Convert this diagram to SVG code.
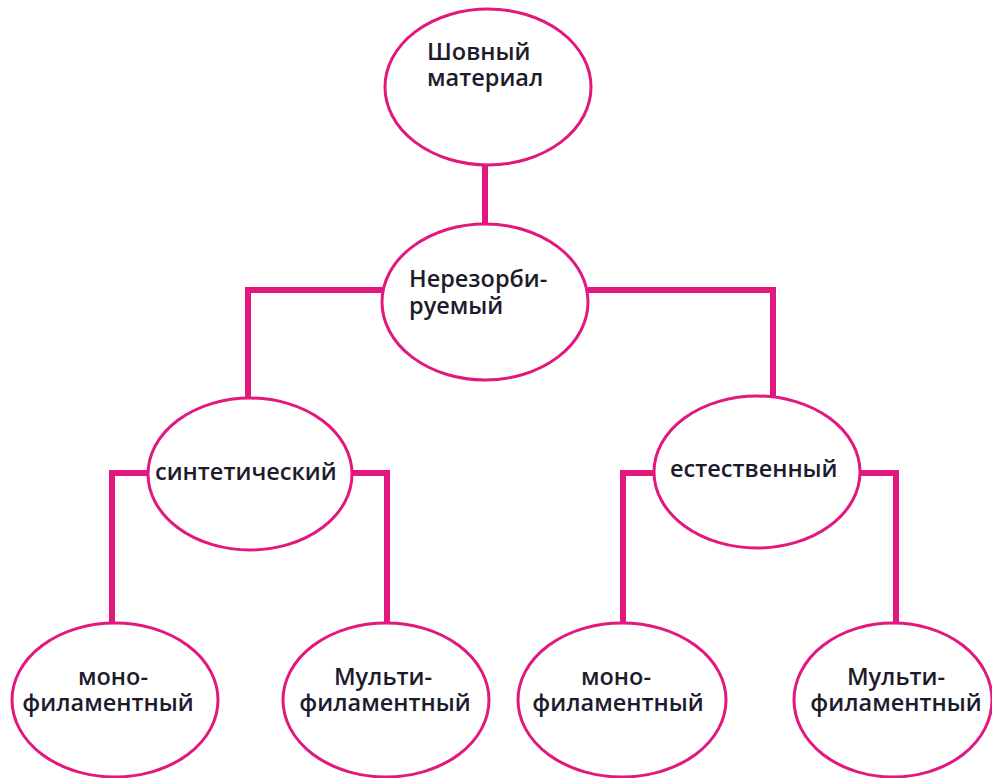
<svg xmlns="http://www.w3.org/2000/svg" width="992" height="778" viewBox="0 0 992 778">
<style>
.n{fill:#fff;stroke:#e2187f;stroke-width:3}
.c{fill:none;stroke:#e2187f;stroke-width:6;stroke-linecap:butt;stroke-linejoin:miter}
.t{font-family:"Open Sans","DejaVu Sans",sans-serif;font-size:23.5px;font-weight:600;fill:#1c1c2c}
.m{text-anchor:middle}
</style>
<rect width="992" height="778" fill="#fff"/>
<g id="connectors">
<path class="c" d="M485 165V228"/>
<path class="c" d="M383 290H248V416"/>
<path class="c" d="M588 290H773V400"/>
<path class="c" d="M149 473H112V624"/>
<path class="c" d="M351 473H387V624"/>
<path class="c" d="M655 473H623V624"/>
<path class="c" d="M859 473H896V624"/>
</g>
<g id="n1"><ellipse class="n" cx="488" cy="87" rx="103" ry="78"/>
<text class="t" x="427" y="60">Шовный</text><text class="t" x="427" y="86">материал</text></g>
<g id="n2"><ellipse class="n" cx="485" cy="302" rx="103" ry="78"/>
<text class="t" x="409" y="287">Нерезорби-</text><text class="t" x="409" y="314">руемый</text></g>
<g id="n3"><ellipse class="n" cx="250" cy="474" rx="102" ry="76"/>
<text class="t" x="155" y="480">синтетический</text></g>
<g id="n4"><ellipse class="n" cx="757" cy="472" rx="103" ry="76"/>
<text class="t" x="670" y="477">естественный</text></g>
<g id="n5"><ellipse class="n" cx="115" cy="700" rx="103" ry="77"/>
<text class="t m" x="113" y="685">моно-</text><text class="t m" x="108" y="711">филаментный</text></g>
<g id="n6"><ellipse class="n" cx="386" cy="700" rx="103" ry="77"/>
<text class="t m" x="383" y="685">Мульти-</text><text class="t m" x="385" y="711">филаментный</text></g>
<g id="n7"><ellipse class="n" cx="622" cy="700" rx="104" ry="77"/>
<text class="t m" x="616" y="685">моно-</text><text class="t m" x="618" y="711">филаментный</text></g>
<g id="n8"><ellipse class="n" cx="893" cy="700" rx="99" ry="77"/>
<text class="t m" x="896" y="685">Мульти-</text><text class="t m" x="896" y="711">филаментный</text></g>
</svg>
